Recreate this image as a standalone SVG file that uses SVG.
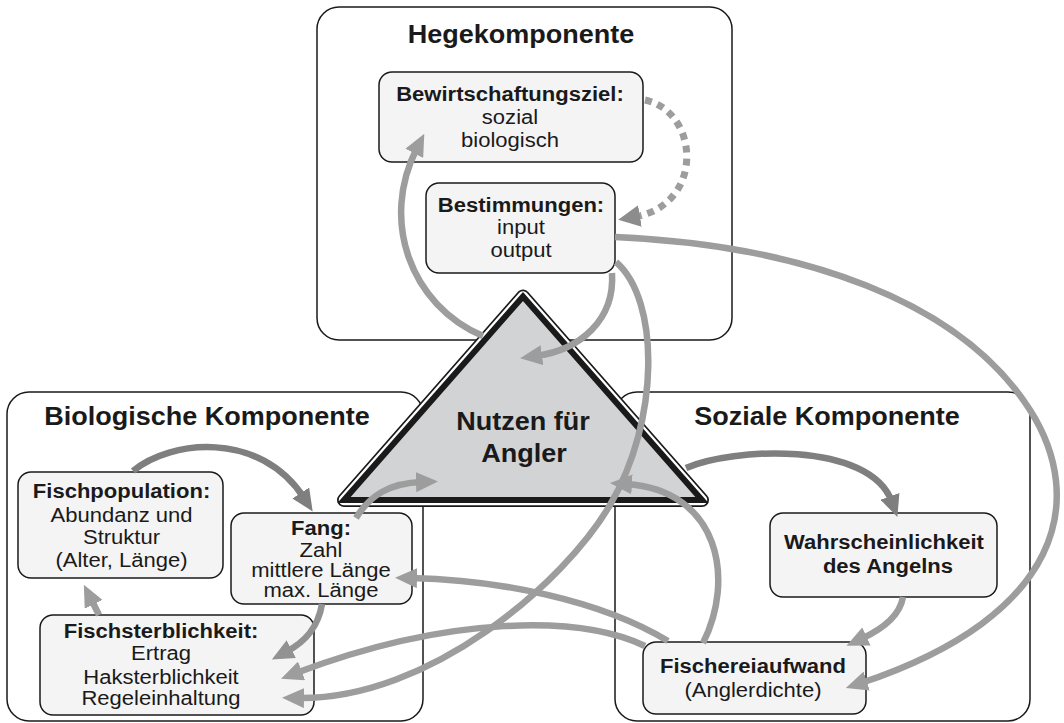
<svg xmlns="http://www.w3.org/2000/svg" width="1064" height="723" viewBox="0 0 1064 723">
<style>
text{font-family:"Liberation Sans",Arial,Helvetica,sans-serif;fill:#1a1a1a;text-anchor:middle}
.title{font-size:25.5px;font-weight:bold}
.nb{font-size:19.5px;font-weight:bold}
.nr{font-size:19.5px}
.comp{fill:#ffffff;stroke:#1a1a1a;stroke-width:1.5}
.node{fill:#f4f4f4;stroke:#1a1a1a;stroke-width:1.5}
.c{fill:none;stroke:#9d9d9d;stroke-width:6.5;marker-end:url(#ah)}
.cd{fill:none;stroke:#7f7f7f;stroke-width:6.5;marker-end:url(#ahd)}
.cm{fill:none;stroke:#929292;stroke-width:6.5;marker-end:url(#ahm)}
</style>
<defs>
<marker id="ah" viewBox="0 0 22 20" refX="6" refY="10" markerWidth="22" markerHeight="20" markerUnits="userSpaceOnUse" orient="auto"><path d="M0,0 L22,10 L0,20 z" fill="#9d9d9d"/></marker>
<marker id="ahd" viewBox="0 0 22 20" refX="6" refY="10" markerWidth="22" markerHeight="20" markerUnits="userSpaceOnUse" orient="auto"><path d="M0,0 L22,10 L0,20 z" fill="#7f7f7f"/></marker>
<marker id="ahm" viewBox="0 0 22 20" refX="6" refY="10" markerWidth="22" markerHeight="20" markerUnits="userSpaceOnUse" orient="auto"><path d="M0,0 L22,10 L0,20 z" fill="#929292"/></marker>
<marker id="ahdot" viewBox="0 0 22 22" refX="6" refY="11" markerWidth="22" markerHeight="22" markerUnits="userSpaceOnUse" orient="auto"><path d="M0,0 L22,11 L0,22 z" fill="#8c8c8c"/></marker>
</defs>
<rect width="1064" height="723" fill="#ffffff"/>

<g id="hegekomponente">
<rect class="comp" x="317" y="7" width="415" height="333" rx="22"/>
<g transform="translate(521,0) scale(1.06,1)"><text class="title" x="0" y="43">Hegekomponente</text></g>
</g>
<g id="biologische-komponente">
<rect class="comp" x="7" y="392" width="416" height="329" rx="22"/>
<g transform="translate(207,0) scale(1.06,1)"><text class="title" x="0" y="425">Biologische Komponente</text></g>
</g>
<g id="soziale-komponente">
<rect class="comp" x="615" y="392" width="415" height="329" rx="22"/>
<g transform="translate(827,0) scale(1.06,1)"><text class="title" x="0" y="425">Soziale Komponente</text></g>
</g>

<g id="nutzen">
<polygon points="523,296.5 344,500 702,500" fill="#1a1a1a" stroke="#1a1a1a" stroke-width="14" stroke-linejoin="round"/>
<polygon points="523,296.5 344,500 702,500" fill="#ffffff" stroke="#ffffff" stroke-width="10.5" stroke-linejoin="round"/>
<polygon points="523,296.5 344,500 702,500" fill="#d1d3d4" stroke="#1a1a1a" stroke-width="6" stroke-linejoin="miter" stroke-miterlimit="4"/>
<g transform="translate(523,0) scale(1.06,1)">
<text class="title" x="0" y="430">Nutzen für</text>
<text class="title" x="1" y="462">Angler</text>
</g>
</g>

<g id="bewirtschaftungsziel">
<rect class="node" x="379" y="72" width="264" height="90" rx="13"/>
<g transform="translate(510,0) scale(1.13,1)">
<text class="nb" x="0" y="101">Bewirtschaftungsziel:</text>
<text class="nr" x="0" y="124">sozial</text>
<text class="nr" x="0" y="147">biologisch</text>
</g>
</g>
<g id="bestimmungen">
<rect class="node" x="426" y="183" width="189" height="90" rx="13"/>
<g transform="translate(521,0) scale(1.13,1)">
<text class="nb" x="0" y="212">Bestimmungen:</text>
<text class="nr" x="0" y="234">input</text>
<text class="nr" x="0" y="257">output</text>
</g>
</g>
<g id="fischpopulation">
<rect class="node" x="18" y="472" width="205" height="106" rx="13"/>
<g transform="translate(121.5,0) scale(1.13,1)">
<text class="nb" x="0" y="498">Fischpopulation:</text>
<text class="nr" x="0" y="522">Abundanz und</text>
<text class="nr" x="0" y="544">Struktur</text>
<text class="nr" x="0" y="567">(Alter, Länge)</text>
</g>
</g>
<g id="fang">
<rect class="node" x="231" y="513" width="181" height="91" rx="13"/>
<g transform="translate(321,0) scale(1.13,1)">
<text class="nb" x="0" y="535">Fang:</text>
<text class="nr" x="0" y="557">Zahl</text>
<text class="nr" x="0" y="577">mittlere Länge</text>
<text class="nr" x="0" y="597">max. Länge</text>
</g>
</g>
<g id="fischsterblichkeit">
<rect class="node" x="40" y="615" width="274" height="100" rx="13"/>
<g transform="translate(161,0) scale(1.13,1)">
<text class="nb" x="0" y="638">Fischsterblichkeit:</text>
<text class="nr" x="0" y="660">Ertrag</text>
<text class="nr" x="0" y="684">Haksterblichkeit</text>
<text class="nr" x="0" y="705">Regeleinhaltung</text>
</g>
</g>
<g id="wahrscheinlichkeit">
<rect class="node" x="770" y="513" width="227" height="84" rx="13"/>
<g transform="translate(884,0) scale(1.13,1)">
<text class="nb" x="0" y="549">Wahrscheinlichkeit</text>
<text class="nb" x="3.5" y="573">des Angelns</text>
</g>
</g>
<g id="fischereiaufwand">
<rect class="node" x="643" y="642" width="223" height="72" rx="13"/>
<g transform="translate(753,0) scale(1.13,1)">
<text class="nb" x="0" y="673">Fischereiaufwand</text>
<text class="nr" x="0" y="697">(Anglerdichte)</text>
</g>
</g>

<g id="connectors">
<path d="M645,100 C700,112 705,205 634,217" fill="none" stroke="#9d9d9d" stroke-width="7" stroke-dasharray="7 6" marker-end="url(#ahdot)"/>
<path class="c" d="M483,336 C410,305 380,220 417,148"/>
<path class="c" d="M612,273 C615,320 580,350 536,356"/>
<path class="c" d="M616,262 C660,300 660,420 610,505 C565,582 430,700 298,698"/>
<path class="c" d="M615,237 C800,245 960,300 1030,410 C1086,498 1065,615 861,683"/>
<path class="cd" d="M686,468 C730,448 870,440 892,502"/>
<path class="c" d="M903,597 C900,615 885,628 861,639"/>
<path class="c" d="M703,643 C735,580 720,490 626,484"/>
<path class="cd" d="M133,471 C170,440 260,430 304,498"/>
<path class="c" d="M356,518 C370,495 390,483 422,482"/>
<path class="cm" d="M322,604 C318,628 305,642 286,652"/>
<path class="c" d="M99,615 L91,599"/>
<path class="c" d="M668,641 C600,600 500,580 411,578"/>
<path class="c" d="M645,646 C580,615 450,615 296,673"/>
</g>
</svg>
